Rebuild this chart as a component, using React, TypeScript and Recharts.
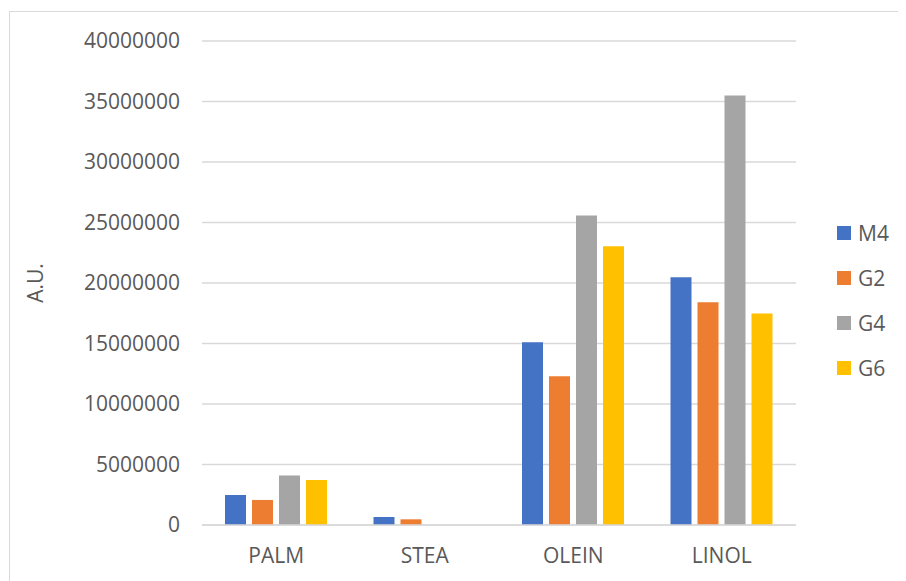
import React from 'react';
import { BarChart, Bar, XAxis, YAxis, CartesianGrid } from 'recharts';

const categories = ['PALM', 'STEA', 'OLEIN', 'LINOL'];
const seriesNames = ['M4', 'G2', 'G4', 'G6'];
const seriesColors = ['#4472C4', '#ED7D31', '#A5A5A5', '#FFC000'];
const m4 = [2480000, 660000, 15100000, 20470000];
const g2 = [2070000, 470000, 12300000, 18400000];
const g4 = [4100000, 0, 25580000, 35500000];
const g6 = [3720000, 0, 23040000, 17470000];
const yTicks = [0, 5000000, 10000000, 15000000, 20000000, 25000000, 30000000, 35000000, 40000000];
const yLabel = 'A.U.';

const seriesValues = [m4, g2, g4, g6];
const data = categories.map((c, i) => {
  const row: Record<string, string | number> = { name: c };
  seriesNames.forEach((s, j) => {
    row[s] = seriesValues[j][i];
  });
  return row;
});

const FONT = '"Open Sans", "Noto Sans", sans-serif';
const TXT = '#595959';

const YLabel = (props: any) => {
  const vb = props.viewBox || {};
  const x = (vb.x ?? 0) + 27;
  const y = (vb.y ?? 0) + (vb.height ?? 0) / 2;
  return (
    <text
      x={x}
      y={y}
      transform={`rotate(-90 ${x} ${y})`}
      textAnchor="middle"
      dominantBaseline="central"
      fill={TXT}
      fontSize={21}
      fontFamily={FONT}
    >
      {yLabel}
    </text>
  );
};

export default function App() {
  return (
    <div style={{ position: 'relative', width: 898, height: 573, fontFamily: FONT }}>
      <div
        style={{
          position: 'absolute',
          left: 1,
          top: 3,
          width: 897,
          height: 570,
          borderLeft: '1px solid #d9d9d9',
          borderTop: '1px solid #d9d9d9',
        }}
      />
      <BarChart
        width={898}
        height={573}
        data={data}
        margin={{ top: 33, right: 110, bottom: 26, left: 0 }}
        barSize={21}
        barGap={6}
        style={{ position: 'absolute', left: 0, top: 0 }}
      >
        <CartesianGrid vertical={false} stroke="#d9d9d9" strokeWidth={1.3} />
        <XAxis
          dataKey="name"
          axisLine={{ stroke: '#d9d9d9', strokeWidth: 1.3 }}
          tickLine={false}
          tickMargin={17}
          tick={{ fill: TXT, fontSize: 21, fontFamily: FONT }}
        />
        <YAxis
          width={194}
          domain={[0, 40000000]}
          ticks={yTicks}
          interval={0}
          axisLine={false}
          tickLine={false}
          tickMargin={16}
          tick={{ fill: TXT, fontSize: 21, fontFamily: FONT }}
          label={YLabel}
        />
        {seriesNames.map((s, j) => (
          <Bar key={s} dataKey={s} fill={seriesColors[j]} isAnimationActive={false} />
        ))}
      </BarChart>
      <div style={{ position: 'absolute', left: 829, top: 202 }}>
        {seriesNames.map((s, j) => (
          <div
            key={s}
            style={{ display: 'flex', alignItems: 'center', height: 45, color: TXT, fontSize: 21, fontFamily: FONT }}
          >
            <span style={{ display: 'inline-block', width: 14, height: 14, background: seriesColors[j], marginRight: 7 }} />
            <span>{s}</span>
          </div>
        ))}
      </div>
    </div>
  );
}
